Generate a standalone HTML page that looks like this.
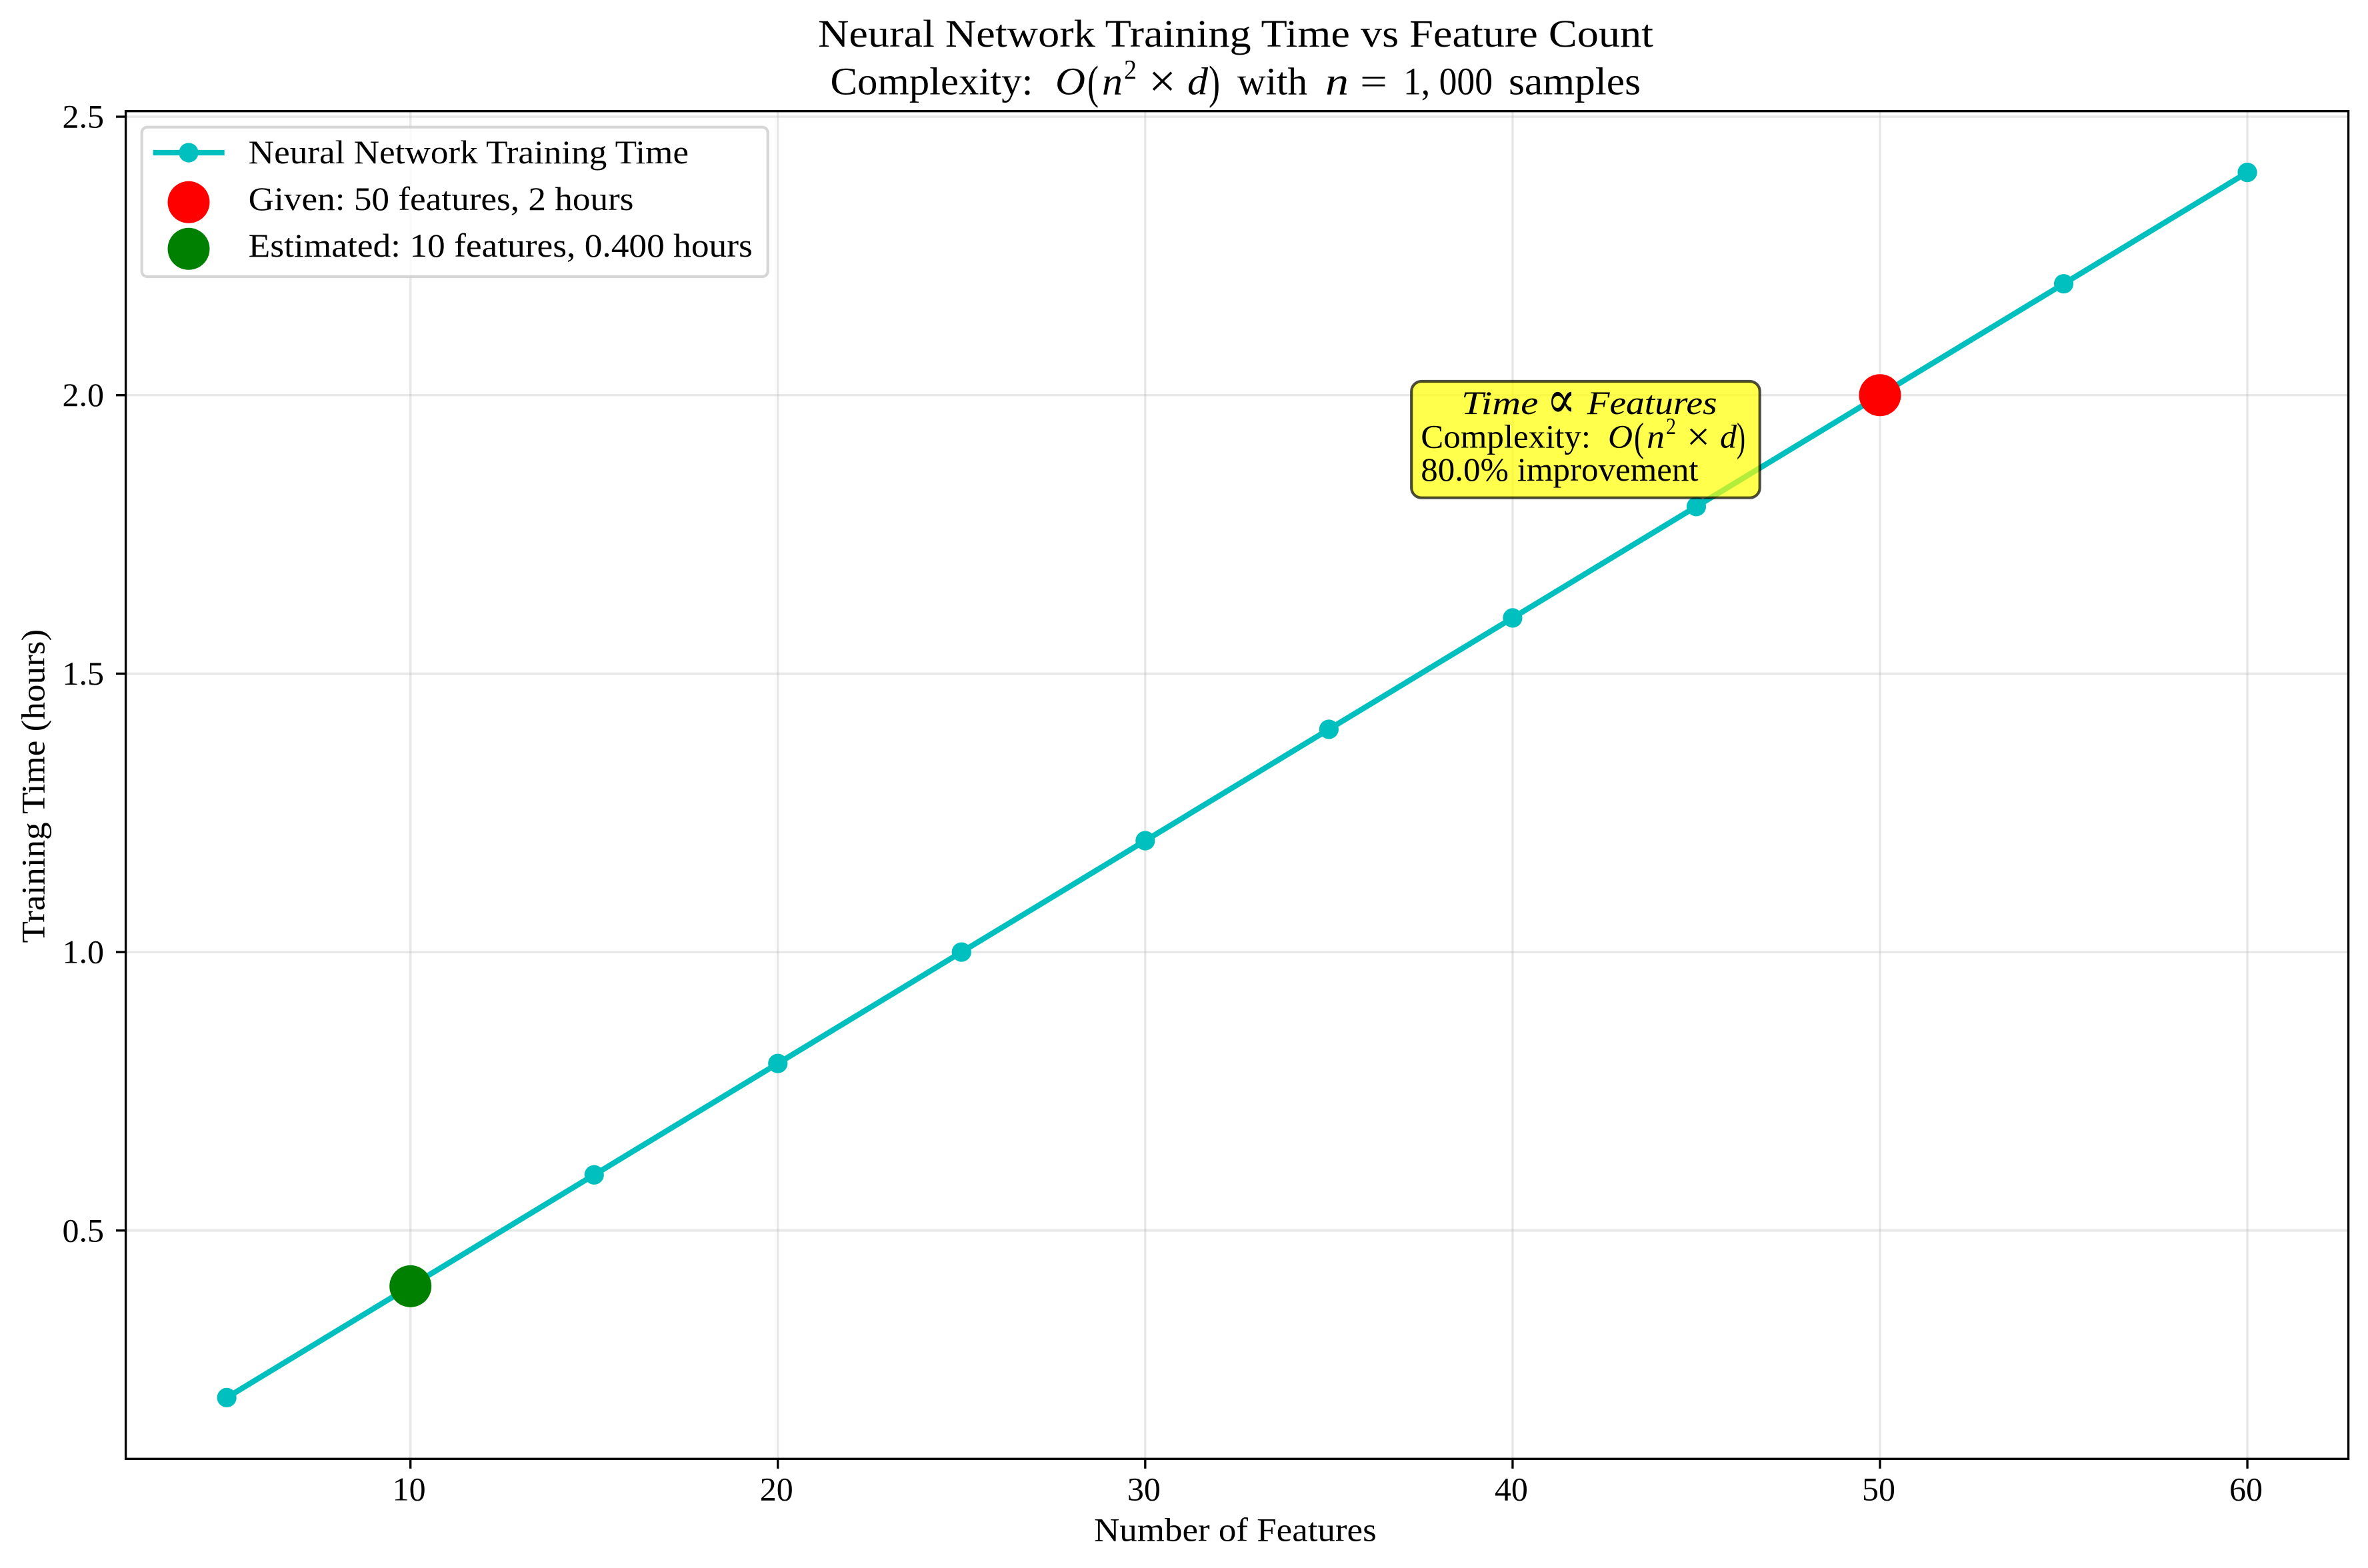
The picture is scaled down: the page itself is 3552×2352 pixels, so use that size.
<!DOCTYPE html>
<html lang="en">
<head>
<meta charset="utf-8">
<title>Neural Network Training Time vs Feature Count</title>
<style>
html,body{margin:0;padding:0;background:#fff;}
svg{display:block;}
text{font-family:"Liberation Serif","DejaVu Serif",serif;fill:#000;}
.t12{font-size:50px;}
.t14{font-size:58.3px;}
.it{font-style:italic;}
</style>
</head>
<body>
<svg id="figure" xmlns="http://www.w3.org/2000/svg" width="3552" height="2352" viewBox="0 0 3552 2352">
  <rect x="0" y="0" width="3552" height="2352" fill="#ffffff"/>
  <g id="grid-layer"></g>
  <g id="series-layer"></g>
  <g id="point-layer"></g>
  <g id="tick-layer"></g>
  <rect x="188.6" y="166.7" width="3334" height="2021.6" fill="none" stroke="#000" stroke-width="3.33"/>

  <g>
    <text class="t14" x="1227" y="70" textLength="1253" lengthAdjust="spacingAndGlyphs">Neural Network Training Time vs Feature Count</text>
    <g>
      <text class="t14" x="1245.5" y="141.7" textLength="304" lengthAdjust="spacingAndGlyphs">Complexity:</text>
      <text class="t14 it" x="1583" y="141.7" font-size="60" textLength="45" lengthAdjust="spacingAndGlyphs">O</text>
      <text x="1631" y="147" font-size="70" textLength="17" lengthAdjust="spacingAndGlyphs">(</text>
      <text class="t14 it" x="1653" y="141.7" textLength="31" lengthAdjust="spacingAndGlyphs">n</text>
      <text x="1686" y="118" font-size="41" textLength="19" lengthAdjust="spacingAndGlyphs">2</text>
      <text x="1723" y="145" font-size="70" textLength="41" lengthAdjust="spacingAndGlyphs">×</text>
      <text class="t14 it" x="1781" y="141.7" textLength="31" lengthAdjust="spacingAndGlyphs">d</text>
      <text x="1813" y="147" font-size="70" textLength="17" lengthAdjust="spacingAndGlyphs">)</text>
      <text class="t14" x="1856" y="141.7" textLength="105" lengthAdjust="spacingAndGlyphs">with</text>
      <text class="t14 it" x="1988" y="141.7" textLength="35" lengthAdjust="spacingAndGlyphs">n</text>
      <text class="t14" x="2040" y="141.7" textLength="41" lengthAdjust="spacingAndGlyphs">=</text>
      <text class="t14" x="2105" y="141.7" textLength="134" lengthAdjust="spacingAndGlyphs">1, 000</text>
      <text class="t14" x="2263" y="141.7" textLength="198" lengthAdjust="spacingAndGlyphs">samples</text>
    </g>
  </g>

  <text class="t12" x="1641" y="2311.7" textLength="423.7" lengthAdjust="spacingAndGlyphs">Number of Features</text>
  <text class="t12" transform="translate(66.7 1414.5) rotate(-90)" x="0" y="0" textLength="470.7" lengthAdjust="spacingAndGlyphs">Training Time (hours)</text>

  <g>
    <rect x="212.7" y="190.7" width="939" height="224.3" rx="8.3" ry="8.3" fill="#fff" fill-opacity="0.8" stroke="#cccccc" stroke-opacity="0.8" stroke-width="4.17"/>
    <g>
      <line x1="229.6" y1="229" x2="336.7" y2="229" stroke="#00bfbf" stroke-width="8.33"/>
      <circle cx="283" cy="229" r="14.6" fill="#00bfbf"/>
      <text class="t12" x="372.7" y="245" textLength="660.3" lengthAdjust="spacingAndGlyphs">Neural Network Training Time</text>
    </g>
    <g>
      <circle cx="283" cy="303.3" r="31.5" fill="#ff0000"/>
      <text class="t12" x="372.7" y="315" textLength="577.8" lengthAdjust="spacingAndGlyphs">Given: 50 features, 2 hours</text>
    </g>
    <g>
      <circle cx="283" cy="373.3" r="31.5" fill="#008000"/>
      <text class="t12" x="372.7" y="385" textLength="756.1" lengthAdjust="spacingAndGlyphs">Estimated: 10 features, 0.400 hours</text>
    </g>
  </g>

  <g>
    <rect x="2117.2" y="572" width="522.5" height="174.7" rx="15" ry="15" fill="#ffff00" fill-opacity="0.7" stroke="#000" stroke-opacity="0.7" stroke-width="4.17"/>
    <g>
      <text class="t12 it" x="2192" y="621" textLength="115.5" lengthAdjust="spacingAndGlyphs">Time</text>
      <text x="2320" y="626" font-size="78" textLength="44" lengthAdjust="spacingAndGlyphs">∝</text>
      <text class="t12 it" x="2380.6" y="621" textLength="195" lengthAdjust="spacingAndGlyphs">Features</text>
    </g>
    <g>
      <text class="t12" x="2131.3" y="671.7" textLength="254.7" lengthAdjust="spacingAndGlyphs">Complexity:</text>
      <text class="t12 it" x="2412" y="671.7" textLength="37" lengthAdjust="spacingAndGlyphs">O</text>
      <text x="2451" y="676" font-size="60" textLength="15" lengthAdjust="spacingAndGlyphs">(</text>
      <text class="t12 it" x="2470" y="671.7" textLength="27" lengthAdjust="spacingAndGlyphs">n</text>
      <text x="2499" y="651" font-size="35" textLength="15" lengthAdjust="spacingAndGlyphs">2</text>
      <text x="2530" y="675" font-size="60" textLength="35" lengthAdjust="spacingAndGlyphs">×</text>
      <text class="t12 it" x="2580" y="671.7" textLength="25" lengthAdjust="spacingAndGlyphs">d</text>
      <text x="2605" y="676" font-size="60" textLength="13" lengthAdjust="spacingAndGlyphs">)</text>
    </g>
    <text class="t12" x="2131.3" y="721" textLength="416.3" lengthAdjust="spacingAndGlyphs">80.0% improvement</text>
  </g>
</svg>

<script>
const features = [5, 10, 15, 20, 25, 30, 35, 40, 45, 50, 55, 60];
const trainingHours = [0.2, 0.4, 0.6, 0.8, 1.0, 1.2, 1.4, 1.6, 1.8, 2.0, 2.2, 2.4];
const xTickValues = [10, 20, 30, 40, 50, 60];
const xTickLabels = ["10", "20", "30", "40", "50", "60"];
const yTickValues = [0.5, 1.0, 1.5, 2.0, 2.5];
const yTickLabels = ["0.5", "1.0", "1.5", "2.0", "2.5"];
const givenFeatures = [50];
const givenHours = [2];
const estimatedFeatures = [10];
const estimatedHours = [0.4];

const NS = 'http://www.w3.org/2000/svg';
const plot = { left: 188.6, right: 3522.6, top: 166.7, bottom: 2188.3 };
const xDomain = [2.25, 62.75];
const yDomain = [0.09, 2.51];

function xScale(v) {
  return plot.left + (v - xDomain[0]) / (xDomain[1] - xDomain[0]) * (plot.right - plot.left);
}
function yScale(v) {
  return plot.bottom - (v - yDomain[0]) / (yDomain[1] - yDomain[0]) * (plot.bottom - plot.top);
}
function make(tag, attrs, parent) {
  const node = document.createElementNS(NS, tag);
  for (const key in attrs) node.setAttribute(key, attrs[key]);
  parent.appendChild(node);
  return node;
}

const gridLayer = document.getElementById('grid-layer');
const tickLayer = document.getElementById('tick-layer');
const seriesLayer = document.getElementById('series-layer');
const pointLayer = document.getElementById('point-layer');

xTickValues.forEach(function (v, i) {
  const px = xScale(v);
  const grid = make('line', { x1: px, x2: px, y1: plot.top, y2: plot.bottom, stroke: '#b0b0b0', 'stroke-opacity': 0.3, 'stroke-width': 3.33 }, gridLayer);
  
  
  const tick = make('line', { x1: px, x2: px, y1: plot.bottom, y2: plot.bottom + 14.6, stroke: '#000', 'stroke-width': 3.33 }, tickLayer);
  
  
  const label = make('text', { x: px - 2, y: 2250.7, 'text-anchor': 'middle', 'class': 't12' }, tickLayer);
  
  
  label.textContent = xTickLabels[i];
});

yTickValues.forEach(function (v, i) {
  const py = yScale(v);
  const grid = make('line', { x1: plot.left, x2: plot.right, y1: py, y2: py, stroke: '#b0b0b0', 'stroke-opacity': 0.3, 'stroke-width': 3.33 }, gridLayer);
  
  
  const tick = make('line', { x1: plot.left, x2: plot.left - 14.6, y1: py, y2: py, stroke: '#000', 'stroke-width': 3.33 }, tickLayer);
  
  
  const label = make('text', { x: 156, y: py + 16.5, 'text-anchor': 'end', 'class': 't12' }, tickLayer);
  
  
  label.textContent = yTickLabels[i];
});

const linePoints = features.map(function (f, i) {
  return xScale(f) + ',' + yScale(trainingHours[i]);
}).join(' ');
const seriesLine = make('polyline', { points: linePoints, fill: 'none', stroke: '#00bfbf', 'stroke-width': 8.33, 'stroke-linejoin': 'round' }, seriesLayer);



features.forEach(function (f, i) {
  const dot = make('circle', { cx: xScale(f), cy: yScale(trainingHours[i]), r: 14.6, fill: '#00bfbf' }, seriesLayer);
  
  
});

givenFeatures.forEach(function (f, i) {
  const dot = make('circle', { cx: xScale(f), cy: yScale(givenHours[i]), r: 31.5, fill: '#ff0000' }, pointLayer);
  
  
});

estimatedFeatures.forEach(function (f, i) {
  const dot = make('circle', { cx: xScale(f), cy: yScale(estimatedHours[i]), r: 31.5, fill: '#008000' }, pointLayer);
  
  
});
</script>
</body>
</html>
